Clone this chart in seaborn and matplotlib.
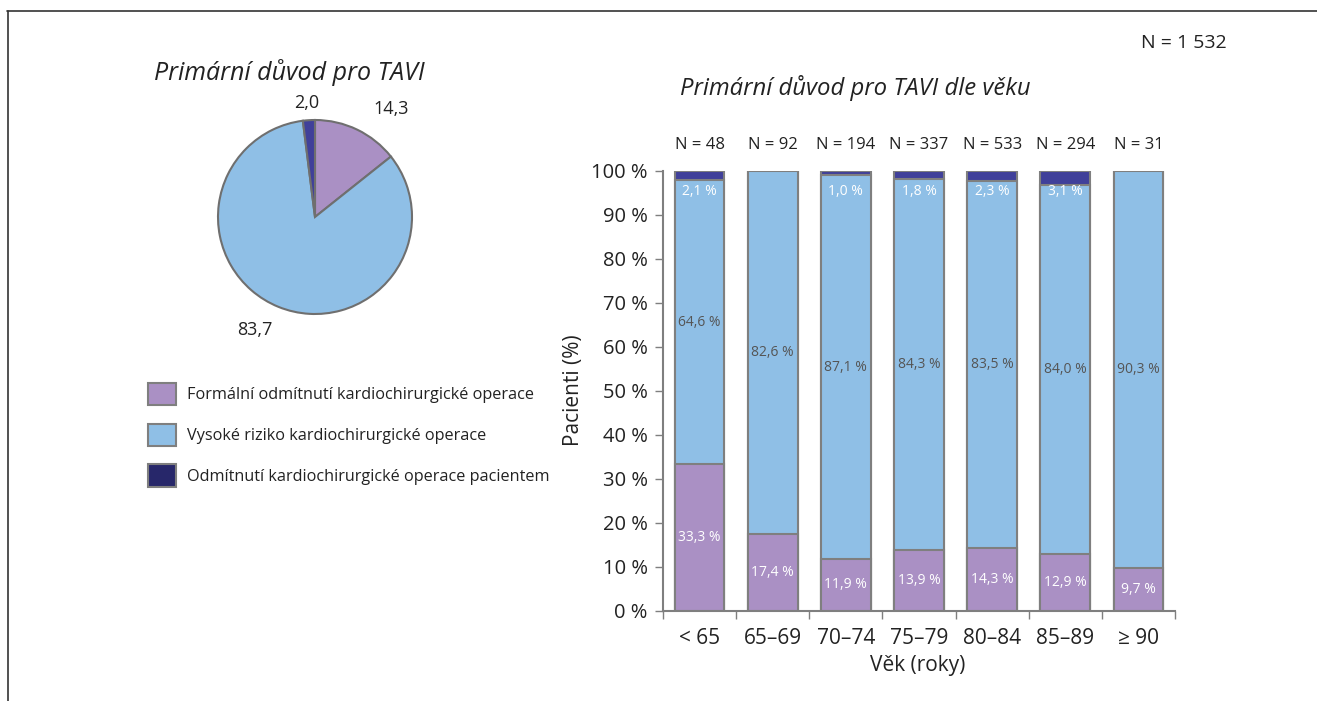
import numpy as np
import pandas as pd
import seaborn as sns
import matplotlib.pyplot as plt
from matplotlib.lines import Line2D

# Data
reasons = ["Formální odmítnutí kardiochirurgické operace",
           "Vysoké riziko kardiochirurgické operace",
           "Odmítnutí kardiochirurgické operace pacientem"]
pie_values = [14.3, 83.7, 2.0]
pie_labels = ["14,3", "83,7", "2,0"]

age_groups = ["< 65", "65–69", "70–74", "75–79", "80–84", "85–89", "≥ 90"]
group_n = [48, 92, 194, 337, 533, 294, 31]
formal = [33.3, 17.4, 11.9, 13.9, 14.3, 12.9, 9.7]
high_risk = [64.6, 82.6, 87.1, 84.3, 83.5, 84.0, 90.3]
patient = [2.1, 0.0, 1.0, 1.8, 2.3, 3.1, 0.0]

colors = ["#AA90C4", "#8FBFE6", "#40409A"]
legend_dark = "#27276A"
edge = "#7F7F7F"
txt = "#222222"

sns.set_theme(style="white")
plt.rcParams["font.family"] = ["Open Sans", "DejaVu Sans"]
plt.rcParams["text.color"] = txt

W, H = 1317, 701
fig = plt.figure(figsize=(W / 100, H / 100), dpi=100)

# frame lines (top and left)
fig.add_artist(Line2D([7 / W, 1], [1 - 11 / H, 1 - 11 / H], color="#333333", lw=1.2))
fig.add_artist(Line2D([8 / W, 8 / W], [0, 1 - 11 / H], color="#333333", lw=1.2))

# ---- Pie chart ----
pie_ax = fig.add_axes([218 / W, 1 - 314 / H, 194 / W, 194 / H])
wedges, _ = pie_ax.pie(pie_values, colors=colors, startangle=90, counterclock=False,
                       wedgeprops=dict(edgecolor="#6F6F6F", linewidth=1.5))
pie_ax.set_xlim(-1, 1)
pie_ax.set_ylim(-1, 1)
pie_ax.set_aspect("equal")
pie_ax.axis("off")
label_pos = [(0.79, 1.11), (-0.62, -1.16), (-0.09, 1.18)]
for lab, (lx, ly) in zip(pie_labels, label_pos):
    pie_ax.text(lx, ly, lab, ha="center", va="center", fontsize=13, color=txt)

fig.text(289 / W, 1 - 72 / H, "Primární důvod pro TAVI", ha="center", va="center",
         fontsize=18, style="italic", color=txt)

# legend
handles = [plt.Rectangle((0, 0), 1, 1, facecolor=c, edgecolor=edge, linewidth=1.5)
           for c in [colors[0], colors[1], legend_dark]]
fig.legend(handles, reasons, loc="upper left", bbox_to_anchor=(148 / W, 1 - 383 / H),
           frameon=False, fontsize=11.7, handlelength=1.75, handleheight=1.75,
           handletextpad=0.68, labelspacing=1.12, borderpad=0, borderaxespad=0)

# ---- Stacked bar chart ----
ax = fig.add_axes([663 / W, 90 / H, 512 / W, 440 / H])
df = pd.DataFrame({"age": age_groups, "formal": formal,
                   "high_risk": high_risk, "patient": patient})
df["top"] = df["formal"] + df["high_risk"] + df["patient"]
df["mid"] = df["formal"] + df["high_risk"]

bar_kw = dict(order=age_groups, width=0.68, edgecolor=edge, linewidth=1.5, ax=ax)
sns.barplot(data=df, x="age", y="top", color=colors[2], saturation=1, **bar_kw)
top_container = ax.containers[-1]
sns.barplot(data=df, x="age", y="mid", color=colors[1], saturation=1, **bar_kw)
sns.barplot(data=df, x="age", y="formal", color=colors[0], saturation=1, **bar_kw)

ax.bar_label(top_container, labels=[f"N = {n}" for n in group_n], padding=13,
             fontsize=12, color=txt)

for i in range(len(age_groups)):
    ax.text(i, formal[i] / 2, f"{formal[i]:.1f} %".replace(".", ","),
            ha="center", va="center", fontsize=10, color="white")
    ax.text(i, formal[i] + high_risk[i] / 2, f"{high_risk[i]:.1f} %".replace(".", ","),
            ha="center", va="center", fontsize=10, color="#555555")
    if patient[i] > 0:
        ax.text(i, 95.4, f"{patient[i]:.1f} %".replace(".", ","),
                ha="center", va="center", fontsize=10, color="white")

ax.set_ylim(0, 100)
ax.set_xlim(-0.5, len(age_groups) - 0.5)
ax.set_yticks(np.arange(0, 101, 10))
ax.set_yticklabels([f"{v} %" for v in range(0, 101, 10)])
ax.set_xticks(range(len(age_groups)))
ax.set_xticklabels(age_groups)
ax.set_xticks(np.arange(-0.5, len(age_groups), 1), minor=True)
ax.tick_params(axis="x", which="major", length=0, pad=12, labelsize=15, labelcolor=txt)
ax.tick_params(axis="x", which="minor", length=6, width=1, color=edge, direction="out",
               bottom=True)
ax.tick_params(axis="y", length=6, width=1, color=edge, direction="out", left=True,
               pad=5, labelsize=14.5, labelcolor=txt)
ax.set_xlabel("")
ax.set_ylabel("")
sns.despine(ax=ax)
for s in ["left", "bottom"]:
    ax.spines[s].set_color(edge)
    ax.spines[s].set_linewidth(1.5)

fig.text(573 / W, 1 - 390 / H, "Pacienti (%)", rotation=90, ha="center", va="center",
         fontsize=15, color=txt)
fig.text(918 / W, 1 - 665 / H, "Věk (roky)", ha="center", va="center",
         fontsize=15, color=txt)
fig.text(855 / W, 1 - 88 / H, "Primární důvod pro TAVI dle věku", ha="center", va="center",
         fontsize=17.2, style="italic", color=txt)
fig.text(1184 / W, 1 - 43 / H, "N = 1 532", ha="center", va="center",
         fontsize=14, color=txt)

fig.savefig("out.png", dpi=100)
